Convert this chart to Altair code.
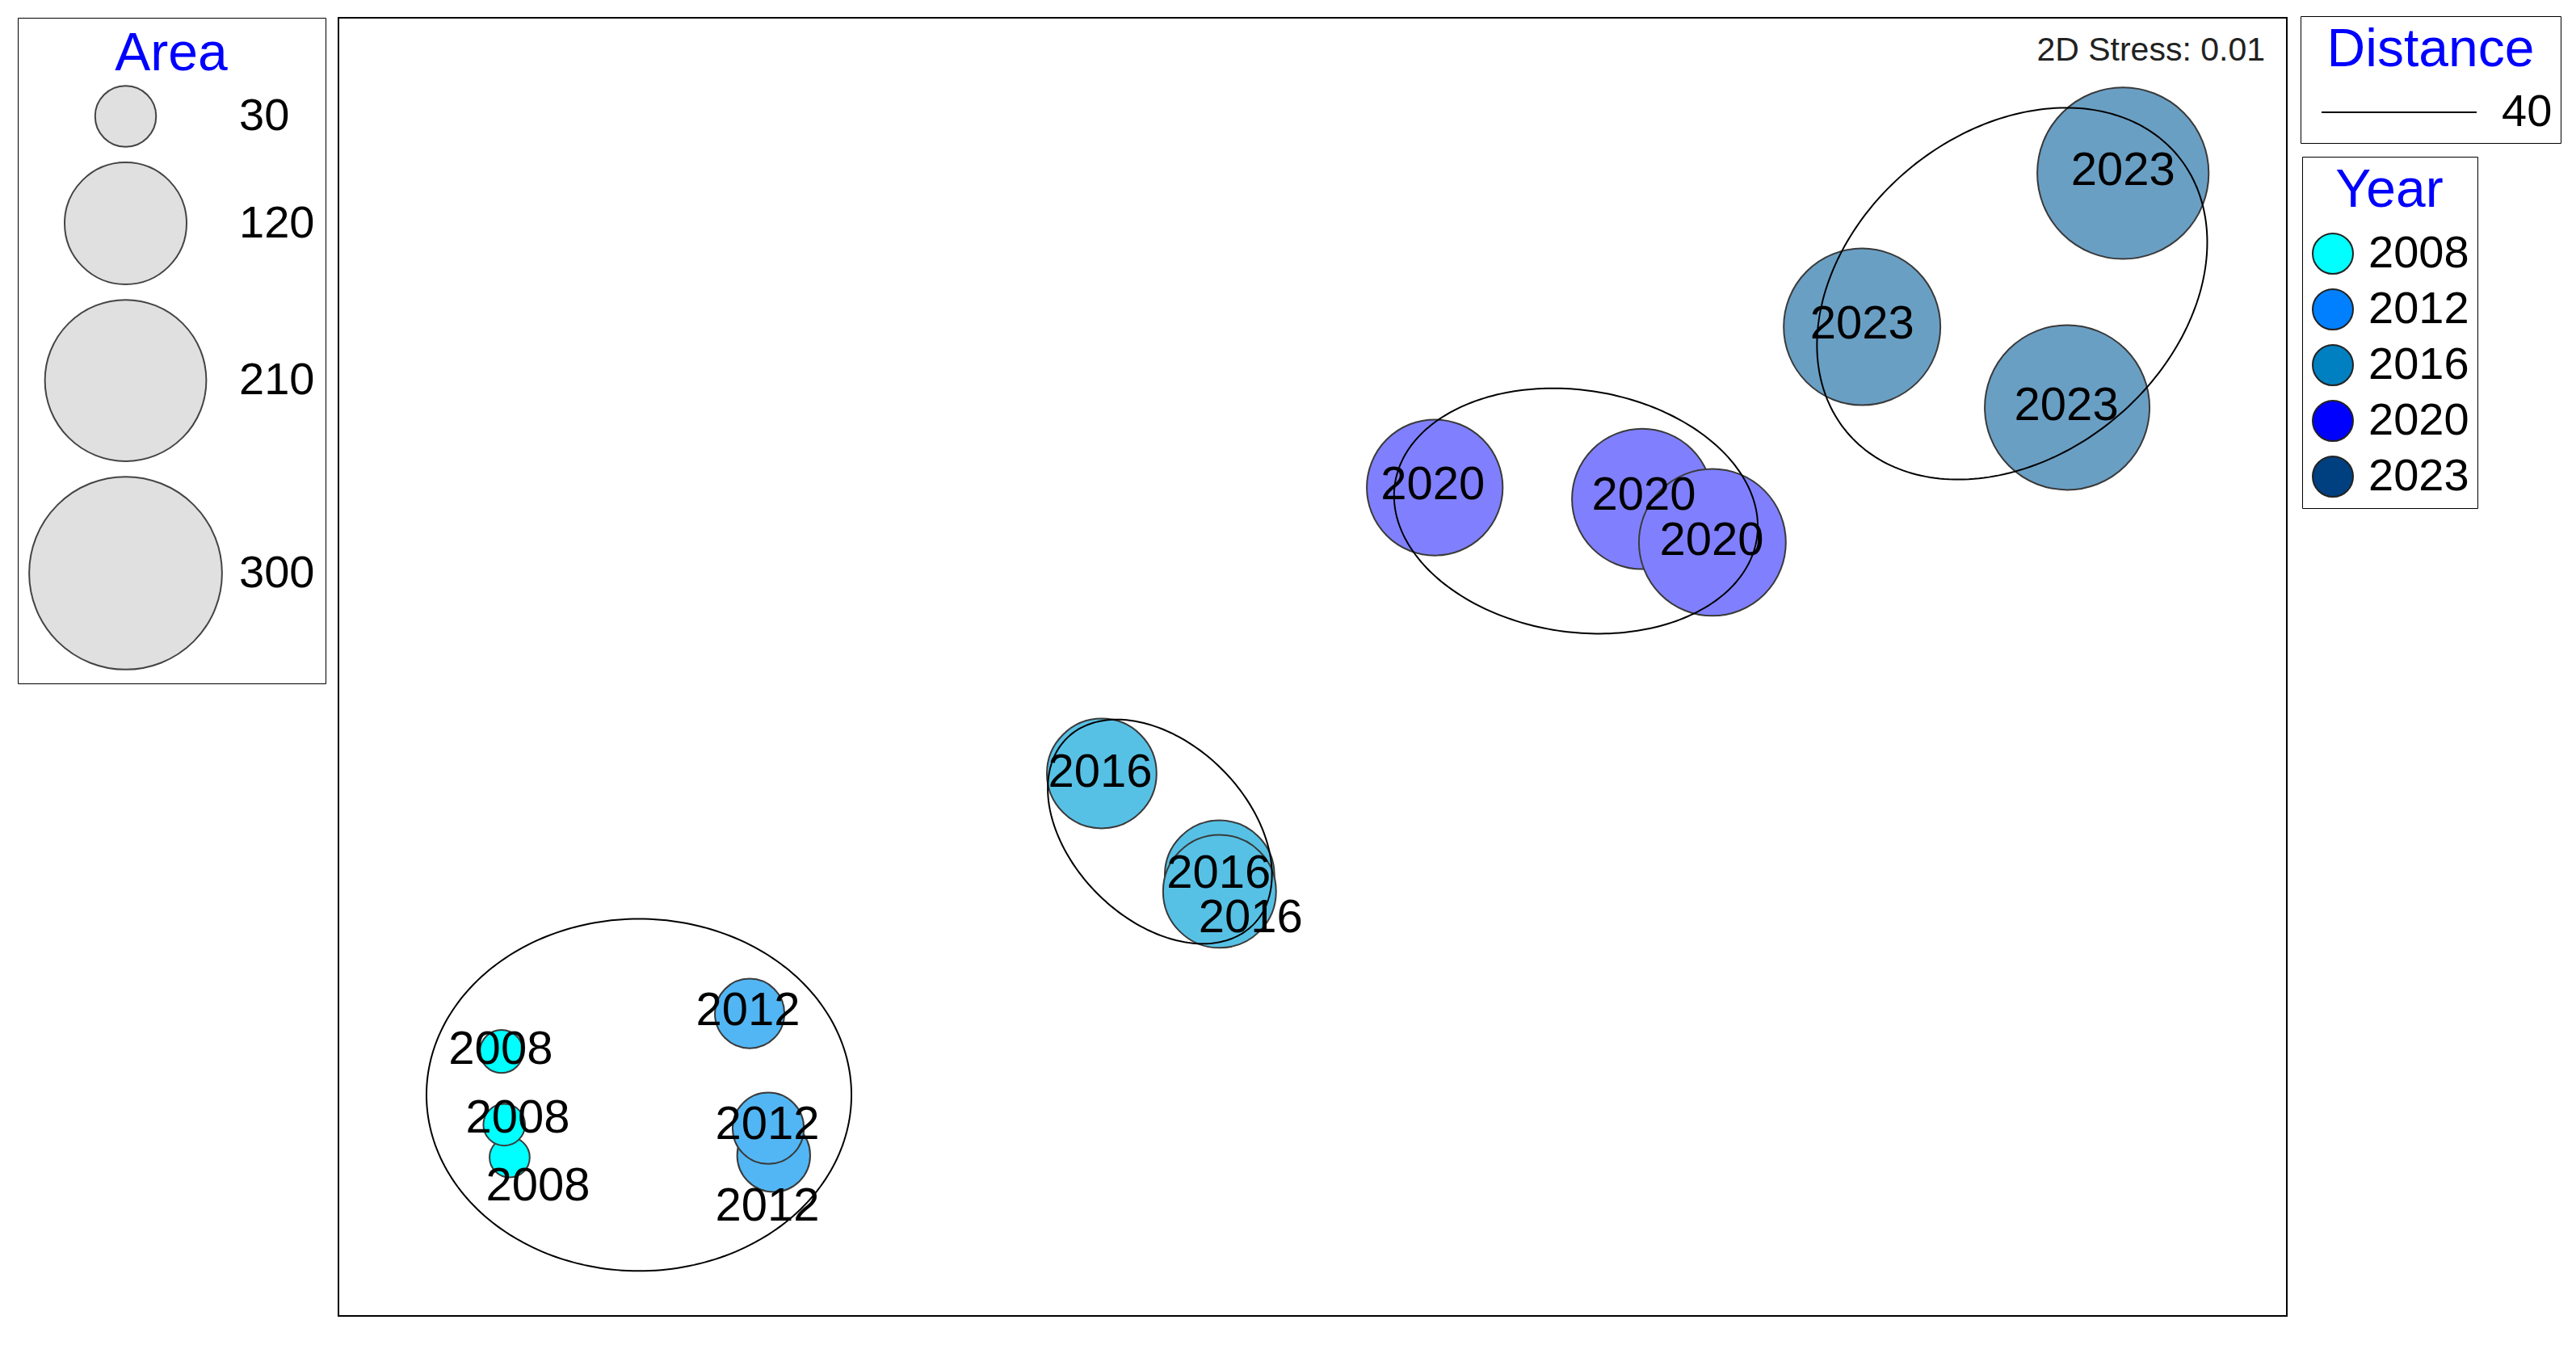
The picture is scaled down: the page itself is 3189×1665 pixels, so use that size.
import numpy as np
import pandas as pd
import altair as alt

# ---------------- data ----------------
years = ["2008", "2012", "2016", "2020", "2023"]
legend_colors = ["#00FFFF", "#0080FF", "#0080C0", "#0000FF", "#004080"]
bubble_colors = ["#00FFFF", "#52B6F4", "#57C1E5", "#8080FF", "#6A9FC4"]

sample_year = ["2008", "2008", "2008", "2012", "2012", "2012", "2016", "2016", "2016",
               "2020", "2020", "2020", "2023", "2023", "2023"]
mds_x = [-207.1, -208.5, -209.2, -139.0, -140.4, -145.2, -54.4, -24.0, -24.0,
         31.5, 85.0, 103.1, 141.7, 209.0, 194.6]
mds_y = [-126.5, -118.1, -99.2, -126.0, -119.0, -89.4, -27.5, -53.75, -57.9,
         46.25, 43.3, 32.1, 87.7, 127.3, 66.9]
area_value = [13, 14, 15, 43, 41, 39, 97, 97, 103, 149, 159, 174, 198, 237, 219]
label_x = [-199.8, -205.0, -209.4, -140.6, -140.6, -145.6, -54.8, -24.2, -16.0,
           31.0, 85.4, 102.9, 141.7, 209.0, 194.4]
label_y = [-134.0, -116.5, -98.8, -139.2, -118.3, -88.9, -27.3, -53.5, -64.8,
           46.7, 44.0, 32.5, 88.3, 127.9, 67.1]

# group ellipses (centre, semi-axes, rotation in degrees)
ell_cx = [-173.75, -39.4, 67.9, 180.4]
ell_cy = [-110.4, -42.5, 40.2, 96.25]
ell_a = [54.8, 34.0, 47.2, 55.6]
ell_b = [45.4, 22.7, 31.2, 41.7]
ell_angle = [0.0, -45.0, -8.6, 40.0]

area_legend_values = [30, 120, 210, 300]
distance_bar = [40]
stress_text = "2D Stress: 0.01"

# ---------------- layout ----------------
W, H = 2412, 1607
x_dom = [-251.25, 251.25]
y_dom = [-167.4, 167.4]
px_per_unit = W / (x_dom[1] - x_dom[0])
FONT = "Liberation Sans"

pts = pd.DataFrame({"year": sample_year, "x": mds_x, "y": mds_y, "area": area_value,
                    "lx": label_x, "ly": label_y})

rows = []
t = np.linspace(0, 2 * np.pi, 241)
for k in range(len(ell_cx)):
    th = np.deg2rad(ell_angle[k])
    ex = ell_cx[k] + ell_a[k] * np.cos(t) * np.cos(th) - ell_b[k] * np.sin(t) * np.sin(th)
    ey = ell_cy[k] + ell_a[k] * np.cos(t) * np.sin(th) + ell_b[k] * np.sin(t) * np.cos(th)
    for i in range(len(t)):
        rows.append({"g": k, "i": i, "x": ex[i], "y": ey[i]})
ell = pd.DataFrame(rows)

xs = alt.Scale(domain=x_dom, nice=False, zero=False)
ys = alt.Scale(domain=y_dom, nice=False, zero=False)

size_scale = alt.Scale(type="linear", domain=[0, 300], range=[0, 57000], zero=True)

bubbles = alt.Chart(pts).mark_circle(opacity=1, stroke="#3a3a3a", strokeWidth=2).encode(
    x=alt.X("x:Q", scale=xs, axis=None),
    y=alt.Y("y:Q", scale=ys, axis=None),
    size=alt.Size("area:Q", scale=size_scale, legend=alt.Legend(
        title="Area", orient="none", legendX=-397, legendY=0, direction="vertical",
        values=area_legend_values, symbolType="circle", symbolFillColor="#E0E0E0",
        symbolStrokeColor="#444444", symbolStrokeWidth=2, symbolOpacity=1,
        labelFont=FONT, labelFontSize=56, labelColor="black", labelOffset=20,
        titleFont=FONT, titleFontSize=66, titleFontWeight="normal", titleColor="#0000FF",
        titleAnchor="middle", titleAlign="center", titlePadding=4, titleLimit=400,
        strokeColor="black", padding=13, rowPadding=11)),
    color=alt.Color("year:N", scale=alt.Scale(domain=years, range=bubble_colors), legend=None),
)

ellipses = alt.Chart(ell).mark_line(color="black", strokeWidth=2).encode(
    x=alt.X("x:Q", scale=xs, axis=None),
    y=alt.Y("y:Q", scale=ys, axis=None),
    detail="g:N",
    order="i:Q",
)

labels = alt.Chart(pts).mark_text(font=FONT, fontSize=58, color="black",
                                  align="center", baseline="middle").encode(
    x=alt.X("lx:Q", scale=xs, axis=None),
    y=alt.Y("ly:Q", scale=ys, axis=None),
    text="year:N",
)

stress = alt.Chart(pd.DataFrame({"s": [stress_text]})).mark_text(
    font=FONT, fontSize=41, color="#222222", align="right", baseline="alphabetic",
    dx=-27, dy=53).encode(
    x=alt.datum(x_dom[1], scale=xs),
    y=alt.datum(y_dom[1], scale=ys),
    text="s:N",
)

year_legend = alt.Chart(pd.DataFrame({"year": years})).mark_point(
    filled=True, opacity=1).encode(
    color=alt.Color("year:N", scale=alt.Scale(domain=years, range=legend_colors),
                    legend=alt.Legend(
                        title="Year", orient="none", legendX=2431, legendY=172,
                        direction="vertical", symbolType="circle", symbolSize=2500,
                        symbolStrokeColor="#222222", symbolStrokeWidth=2, symbolOpacity=1,
                        labelFont=FONT, labelFontSize=56, labelColor="black", labelOffset=16,
                        titleFont=FONT, titleFontSize=66, titleFontWeight="normal",
                        titleColor="#0000FF", titleAnchor="middle", titleAlign="center",
                        titlePadding=16, titleLimit=400, strokeColor="black", padding=10,
                        rowPadding=11)),
).transform_filter("false")

bar_len_px = distance_bar[0] * px_per_unit
dist_legend = alt.Chart(pd.DataFrame({"dist": [str(d) for d in distance_bar]})).mark_point(
    filled=False, opacity=1, color="black").encode(
    shape=alt.Shape("dist:N", scale=alt.Scale(domain=[str(d) for d in distance_bar], range=["stroke"]),
                    legend=alt.Legend(
                        title="Distance", orient="none", legendX=2429, legendY=-2,
                        direction="vertical", symbolSize=bar_len_px ** 2, clipHeight=56,
                        symbolOffset=15,
                        symbolStrokeColor="black", symbolStrokeWidth=2, symbolOpacity=1,
                        labelFont=FONT, labelFontSize=56, labelColor="black", labelOffset=30,
                        titleFont=FONT, titleFontSize=66, titleFontWeight="normal",
                        titleColor="#0000FF", titleAnchor="middle", titleAlign="center",
                        titlePadding=15, titleLimit=400, strokeColor="black", padding=10)),
).transform_filter("false")

chart = alt.layer(bubbles, ellipses, labels, stress, year_legend, dist_legend).resolve_scale(
    color="independent", shape="independent"
).properties(
    width=W, height=H,
    autosize=alt.AutoSizeParams(type="none"),
    padding={"left": 411, "top": 14, "right": 350, "bottom": 20},
).configure_view(stroke="black", strokeWidth=2)

chart.save("out.html", embed_options={"renderer": "svg", "actions": False})
